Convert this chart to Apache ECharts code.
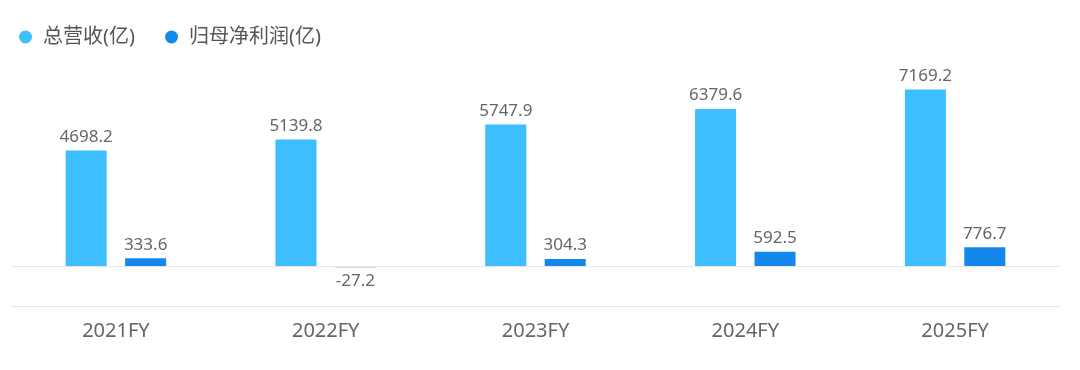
<!DOCTYPE html>
<html>
<head>
<meta charset="utf-8">
<script src="https://cdn.jsdelivr.net/npm/echarts@6/dist/echarts.min.js"></script>
<style>
html,body{margin:0;padding:0;background:#fff;}
#c{width:1080px;height:370px;}
</style>
</head>
<body>
<div id="c"></div>
<script>
const categories = ['2021FY', '2022FY', '2023FY', '2024FY', '2025FY'];
const revenue = [4698.2, 5139.8, 5747.9, 6379.6, 7169.2];
const netProfit = [333.6, -27.2, 304.3, 592.5, 776.7];
const seriesNames = ['总营收(亿)', '归母净利润(亿)'];

const FONT = '"Noto Sans", "Noto Sans CJK SC", sans-serif';
const chart = echarts.init(document.getElementById('c'), null, {renderer: 'canvas'});

function withLabels(arr) {
  return arr.map(v => ({
    value: v,
    label: {position: v < 0 ? 'bottom' : 'top'}
  }));
}

chart.setOption({
  animation: false,
  backgroundColor: '#fff',
  textStyle: {fontFamily: FONT},
  legend: {
    left: 14,
    top: 22,
    icon: 'circle',
    itemWidth: 13,
    itemHeight: 13,
    itemGap: 30,
    textStyle: {fontSize: 20, color: '#555', fontFamily: FONT, padding: [0, 0, 0, 6]},
    data: seriesNames
  },
  grid: {left: 11, right: 20, top: 69, bottom: 64, containLabel: false},
  xAxis: {
    type: 'category',
    data: categories,
    axisLine: {onZero: false, lineStyle: {color: '#e6e6e6', width: 1}},
    axisTick: {show: false},
    axisLabel: {fontSize: 20, color: '#666', margin: 15, fontFamily: FONT}
  },
  yAxis: {
    type: 'value',
    min: -1600,
    max: 8000,
    show: true,
    axisLine: {show: false},
    axisTick: {show: false},
    axisLabel: {show: false},
    splitLine: {show: false}
  },
  series: [
    {
      name: seriesNames[0],
      type: 'bar',
      data: withLabels(revenue),
      barWidth: 41,
      barGap: '45%',
      itemStyle: {color: '#3dbeff'},
      label: {show: true, fontSize: 17, color: '#666', distance: 5, fontFamily: FONT},
      markLine: {
        silent: true,
        symbol: 'none',
        label: {show: false},
        lineStyle: {color: '#e6e6e6', type: 'solid', width: 1},
        data: [{yAxis: 0}]
      }
    },
    {
      name: seriesNames[1],
      type: 'bar',
      data: withLabels(netProfit),
      barWidth: 41,
      itemStyle: {color: '#1487ec'},
      label: {show: true, fontSize: 17, color: '#666', distance: 5, fontFamily: FONT}
    }
  ]
});
</script>
</body>
</html>
